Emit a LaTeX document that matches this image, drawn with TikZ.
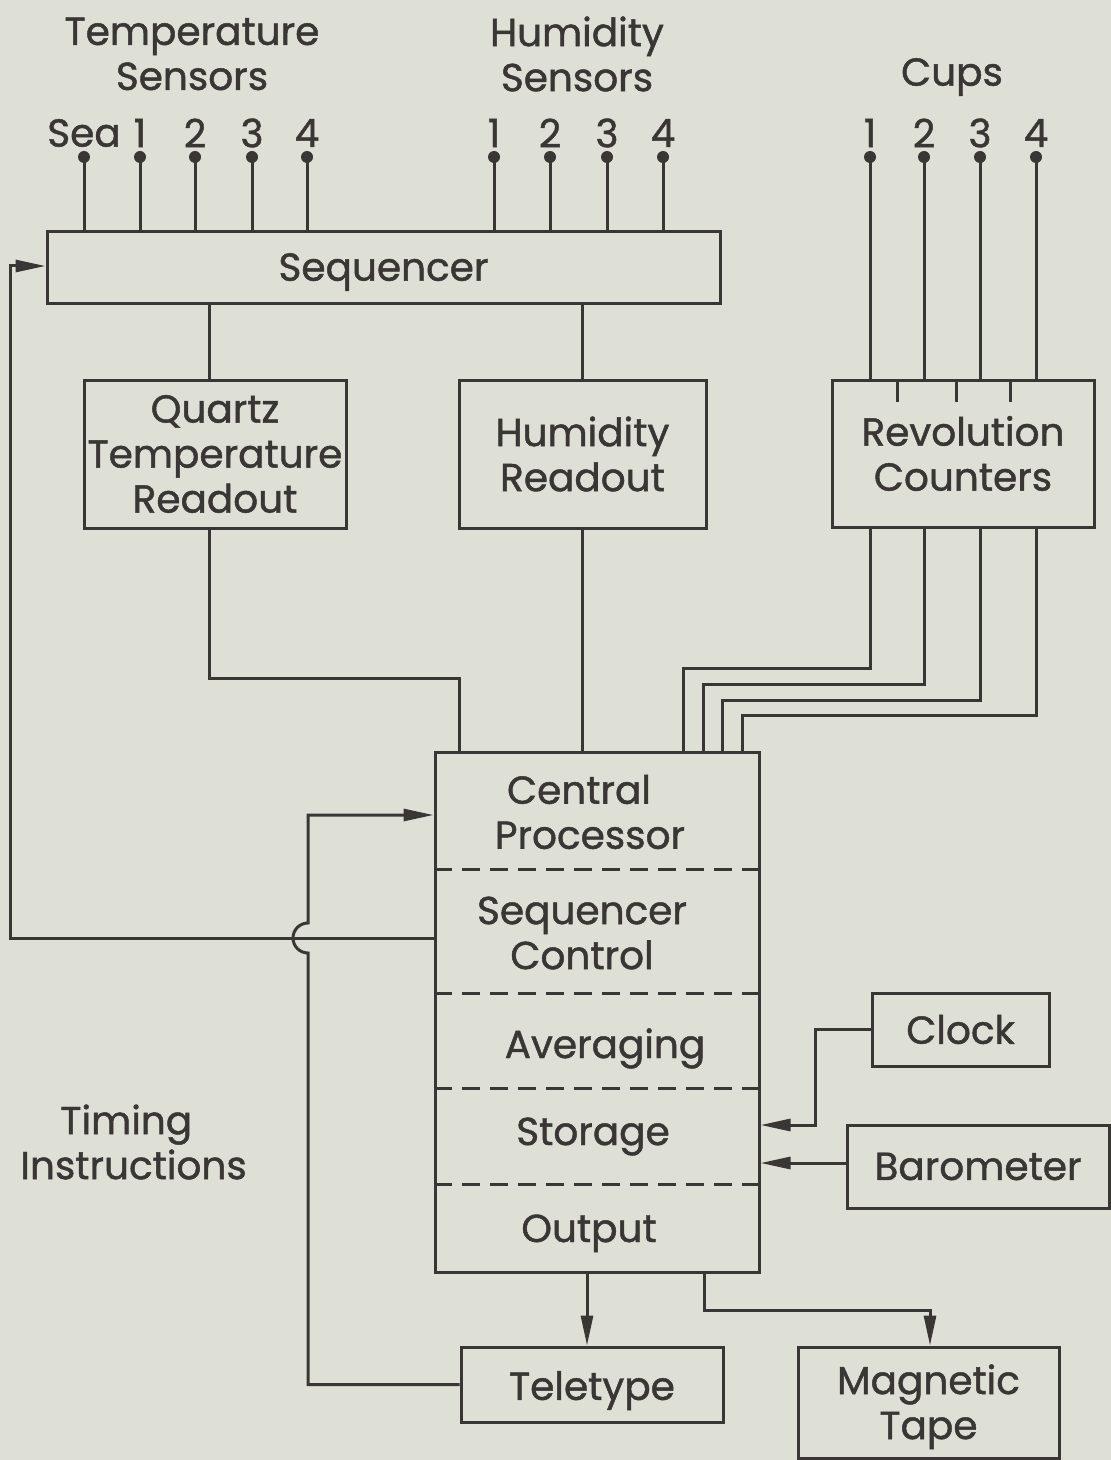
\documentclass[tikz,border=0pt]{standalone}
\usepackage{fontspec}
\setsansfont{Poppins}[FakeBold=1.2]
\usetikzlibrary{arrows.meta}
\definecolor{bg}{HTML}{DEDFD5}
\definecolor{ink}{HTML}{3A3636}
\newcommand{\lowr}[2]{\raisebox{-#1}[\height][\depth]{#2}}
\begin{document}
\begin{tikzpicture}[x=0.5pt,y=-0.5pt,
  every node/.style={text=ink, font=\sffamily\fontsize{19.5}{22.5}\selectfont},
  box/.style={draw=ink, line width=1.5pt, inner sep=0pt, align=center},
  wire/.style={draw=ink, line width=1.5pt},
  arr/.style={wire, -{Triangle[length=15pt,width=6pt]}},
  pin/.style={circle, fill=ink, inner sep=0pt, minimum size=6pt},
  lbl/.style={align=center, inner sep=0pt},
  dsh/.style={draw=ink, line width=1.5pt, dash pattern=on 9pt off 5pt}]
\useasboundingbox (0,0) rectangle (1111,1460);
\fill[bg] (0,0) rectangle (1111,1460);

% boxes
\node[box, minimum width=336.5pt, minimum height=36pt] (seq) at (383.5,268) {\lowr{2pt}{Sequencer}};
\node[box, minimum width=131pt, minimum height=74pt] (qtr) at (215,454) {Quartz\\Temperature\\Readout};
\node[box, minimum width=123.5pt, minimum height=74pt] (hr) at (582.5,454) {Humidity\\Readout};
\node[box, minimum width=131pt, minimum height=73.5pt] (rc) at (963,453.5) {Revolution\\Counters};
\node[box, minimum width=162pt, minimum height=260pt] (cp) at (597,1012) {};
\node[box, minimum width=88.5pt, minimum height=36.5pt] (clk) at (960.5,1029.5) {Clock};
\node[box, minimum width=131pt, minimum height=41.5pt] (bar) at (978,1166.5) {Barometer};
\node[box, minimum width=131pt, minimum height=37.5pt] (tt) at (592,1384.5) {\lowr{3pt}{Teletype}};
\node[box, minimum width=130.5pt, minimum height=55.5pt] (mt) at (928.5,1402.5) {\lowr{2.5pt}{\begin{tabular}{@{}c@{}}Magnetic\\Tape\end{tabular}}};

% headings
\node[lbl] (tshead) at (192,54) {Temperature\\Sensors};
\node[lbl] (hshead) at (577,54) {Humidity\\Sensors};
\node[lbl] (cupshead) at (952,77) {Cups};
\node[anchor=west, align=left, inner sep=0pt] (timing) at (20,1142) {\hspace*{20pt}Timing\\Instructions};

% central processor sections
\draw[dsh] (cp.west |- 0,869) -- (cp.east |- 0,869);
\draw[dsh] (cp.west |- 0,993) -- (cp.east |- 0,993);
\draw[dsh] (cp.west |- 0,1088) -- (cp.east |- 0,1088);
\draw[dsh] (cp.west |- 0,1184) -- (cp.east |- 0,1184);
\node[lbl] (cpa) at (590,812) {\hspace*{-11pt}Central\\Processor};
\node[lbl] (cpb) at (582,933) {Sequencer\\Control};
\node[lbl, anchor=base] (cpc) at (605,1058) {Averaging};
\node[lbl, anchor=base] (cpd) at (593,1145) {Storage};
\node[lbl, anchor=base] (cpe) at (589,1242) {Output};

% sensor pins
\foreach \x/\t [count=\i] in {84/Sea,140/1,195/2,252/3,307/4} {
  \node[lbl] (tl\i) at (\x,133) {\t};
  \node[pin] (tp\i) at (\x,157) {};
  \draw[wire] (tp\i.center) -- (tp\i.center |- seq.north);
}
\foreach \x/\t [count=\i] in {494/1,550/2,607/3,663/4} {
  \node[lbl] (hl\i) at (\x,133) {\t};
  \node[pin] (hp\i) at (\x,157) {};
  \draw[wire] (hp\i.center) -- (hp\i.center |- seq.north);
}
\foreach \x/\t [count=\i] in {870/1,924/2,980/3,1036/4} {
  \node[lbl] (cl\i) at (\x,133) {\t};
  \node[pin] (cpn\i) at (\x,157) {};
  \draw[wire] (cpn\i.center) -- (cpn\i.center |- rc.north);
}
% ticks in revolution counters
\foreach \x in {897,956,1010}
  \draw[wire] (\x,0 |- rc.north) -- (\x,402);

% connectors
\draw[wire] (209,0 |- seq.south) -- (209,0 |- qtr.north);
\draw[wire] (582,0 |- seq.south) -- (582,0 |- hr.north);
\draw[wire] (209,0 |- qtr.south) -- (209,678) -- (459,678) -- (459,0 |- cp.north);
\draw[wire] (582,0 |- hr.south) -- (582,0 |- cp.north);
\foreach \x/\y/\z in {870/668/683, 924/684/703, 980/700/722, 1036/715/742}
  \draw[wire] (\x,0 |- rc.south) -- (\x,\y) -- (\z,\y) -- (\z,0 |- cp.north);

\draw[arr] (cp.west |- 0,938) -- (10,938) -- (10,266) -- (seq.west |- 0,266);
\draw[arr] (tt.west) -- (308,0 |- tt.west) -- (308,953)
   arc[start angle=90, end angle=270, radius=15] -- (308,815) -- (cp.west |- 0,815);
\draw[arr] (clk.west) -- (815,0 |- clk.west) -- (815,1125) -- (cp.east |- 0,1125);
\draw[arr] (bar.west |- 0,1163) -- (cp.east |- 0,1163);
\draw[arr] (587,0 |- cp.south) -- (587,0 |- tt.north);
\draw[arr] (704,0 |- cp.south) -- (704,1310) -- (930,1310) -- (930,0 |- mt.north);
\end{tikzpicture}
\end{document}
